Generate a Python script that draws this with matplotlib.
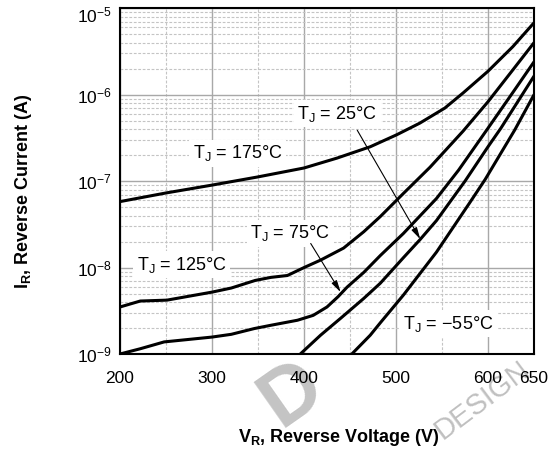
import matplotlib
matplotlib.use("Agg")
import matplotlib.pyplot as plt
import matplotlib.transforms as mtransforms
from matplotlib.ticker import LogLocator, FixedLocator, NullFormatter

plt.rcParams['font.family'] = ['Liberation Sans', 'DejaVu Sans']
plt.rcParams['mathtext.default'] = 'regular'

# ---------------- data ----------------
v_175 = [200, 250, 300, 350, 400, 436, 472, 501, 526, 553, 573, 600, 627, 650]
i_175 = [5.8e-8, 7.3e-8, 9.0e-8, 1.12e-7, 1.42e-7, 1.85e-7, 2.5e-7, 3.45e-7,
         4.7e-7, 7.0e-7, 1.05e-6, 1.87e-6, 3.6e-6, 6.8e-6]

v_125 = [200, 222, 251, 300, 321, 347, 364, 382, 400, 418, 443, 465, 483,
         508, 537, 573, 600, 628, 650]
i_125 = [3.5e-9, 4.1e-9, 4.2e-9, 5.2e-9, 5.8e-9, 7.1e-9, 7.7e-9, 8.1e-9,
         1.0e-8, 1.22e-8, 1.68e-8, 2.6e-8, 3.9e-8, 7.2e-8, 1.45e-7, 3.8e-7,
         8.3e-7, 2.0e-6, 4.0e-6]

v_75 = [200, 222, 248, 300, 321, 346, 364, 393, 410, 425, 437, 447, 465, 483,
        508, 544, 568, 600, 628, 650]
i_75 = [1.0e-9, 1.15e-9, 1.38e-9, 1.57e-9, 1.69e-9, 1.97e-9, 2.15e-9,
        2.46e-9, 2.8e-9, 3.5e-9, 4.6e-9, 5.96e-9, 8.8e-9, 1.38e-8, 2.48e-8,
        6.3e-8, 1.34e-7, 4.1e-7, 1.1e-6, 2.4e-6]

v_25 = [396, 418, 440, 465, 483, 508, 526, 544, 575, 600, 614, 650]
i_25 = [1.0e-9, 1.65e-9, 2.6e-9, 4.4e-9, 6.6e-9, 1.3e-8, 2.1e-8, 3.5e-8,
        1.0e-7, 2.5e-7, 4.1e-7, 1.64e-6]

v_m55 = [452, 472, 483, 508, 544, 580, 597, 629, 650]
i_m55 = [1.0e-9, 1.65e-9, 2.3e-9, 4.8e-9, 1.51e-8, 5.6e-8, 1.05e-7,
         3.9e-7, 1.0e-6]

x_ticks = [200, 300, 400, 500, 600, 650]
x_minor = [250, 350, 450, 550]

labels = ["T$_J$ = 175°C", "T$_J$ = 125°C", "T$_J$ = 75°C",
          "T$_J$ = 25°C", "T$_J$ = \u221255°C"]
label_pos = [(328, 1.83e-7), (267, 9.5e-9), (385, 2.17e-8),
             (436, 5.3e-7), (557, 1.97e-9)]

# ---------------- figure ----------------
W, H = 554, 453
fig = plt.figure(figsize=(W / 100, H / 100), dpi=100)
fig.patch.set_facecolor('white')

# faint watermark fragments (behind the axes)
fig.text(292 / W, 1 - 394 / H, "D", rotation=35, fontsize=58,
         fontweight='bold', color='#c4c4c4', ha='center', va='center',
         zorder=-1)
fig.text(482 / W, 1 - 400 / H, "DESIGN", rotation=37, fontsize=21,
         color='#c0c0c0', ha='center', va='center', zorder=-1)

ax = fig.add_axes([120 / W, 1 - 354 / H, 414 / W, 345.7 / H])
ax.set_facecolor('white')
ax.set_yscale('log')
ax.set_xlim(200, 650)
ax.set_ylim(1e-9, 1e-5)

ax.xaxis.set_major_locator(FixedLocator(x_ticks))
ax.xaxis.set_minor_locator(FixedLocator(x_minor))
ax.yaxis.set_major_locator(LogLocator(base=10, numticks=10))
ax.yaxis.set_minor_locator(LogLocator(base=10, subs=range(2, 10), numticks=20))
ax.yaxis.set_minor_formatter(NullFormatter())

ax.grid(which='major', color='#a8a8a8', lw=1.0, ls='-', zorder=0)
ax.grid(which='minor', color='#c4c4c4', lw=0.8, ls=(0, (2.5, 1.5)), zorder=0)
ax.set_axisbelow(True)

ax.tick_params(which='both', length=0)
ax.tick_params(axis='x', which='major', pad=12, labelsize=12.5)
ax.tick_params(axis='y', which='major', pad=6, labelsize=12.5)

for s in ax.spines.values():
    s.set_linewidth(1.5)
    s.set_color('black')

for v, i in [(v_175, i_175), (v_125, i_125), (v_75, i_75), (v_25, i_25),
             (v_m55, i_m55)]:
    ax.plot(v, i, color='black', lw=2.2, solid_joinstyle='round',
            solid_capstyle='round', zorder=3, clip_on=True)

for txt, (x, y) in zip(labels, label_pos):
    ax.text(x, y, txt, ha='center', va='baseline', fontsize=13, zorder=4,
            bbox=dict(facecolor='white', edgecolor='none', pad=2.5))

arrow = dict(arrowstyle='-|>,head_length=0.7,head_width=0.18', lw=0.8,
             color='black', shrinkA=0, shrinkB=0)
ax.annotate('', xy=(526.4, 2.13e-8), xytext=(457.9, 3.88e-7),
            arrowprops=arrow, zorder=5)
ax.annotate('', xy=(439.8, 5.2e-9), xytext=(407.3, 1.9e-8),
            arrowprops=arrow, zorder=5)

fig.text(339 / W, 1 - 437 / H, "V$_R$, Reverse Voltage (V)", ha='center',
         va='center', fontsize=13, fontweight='bold')
fig.text(24 / W, 1 - 191 / H, "I$_R$, Reverse Current (A)", ha='center',
         va='center', fontsize=13, fontweight='bold', rotation=90)

fig.canvas.draw()
for tick in ax.yaxis.get_major_ticks():
    if abs(tick.get_loc() - 1e-5) < 1e-7:
        lab = tick.label1
        lab.set_transform(lab.get_transform() +
                          mtransforms.ScaledTranslation(0, -0.06, fig.dpi_scale_trans))

fig.savefig('out.png', dpi=100)
